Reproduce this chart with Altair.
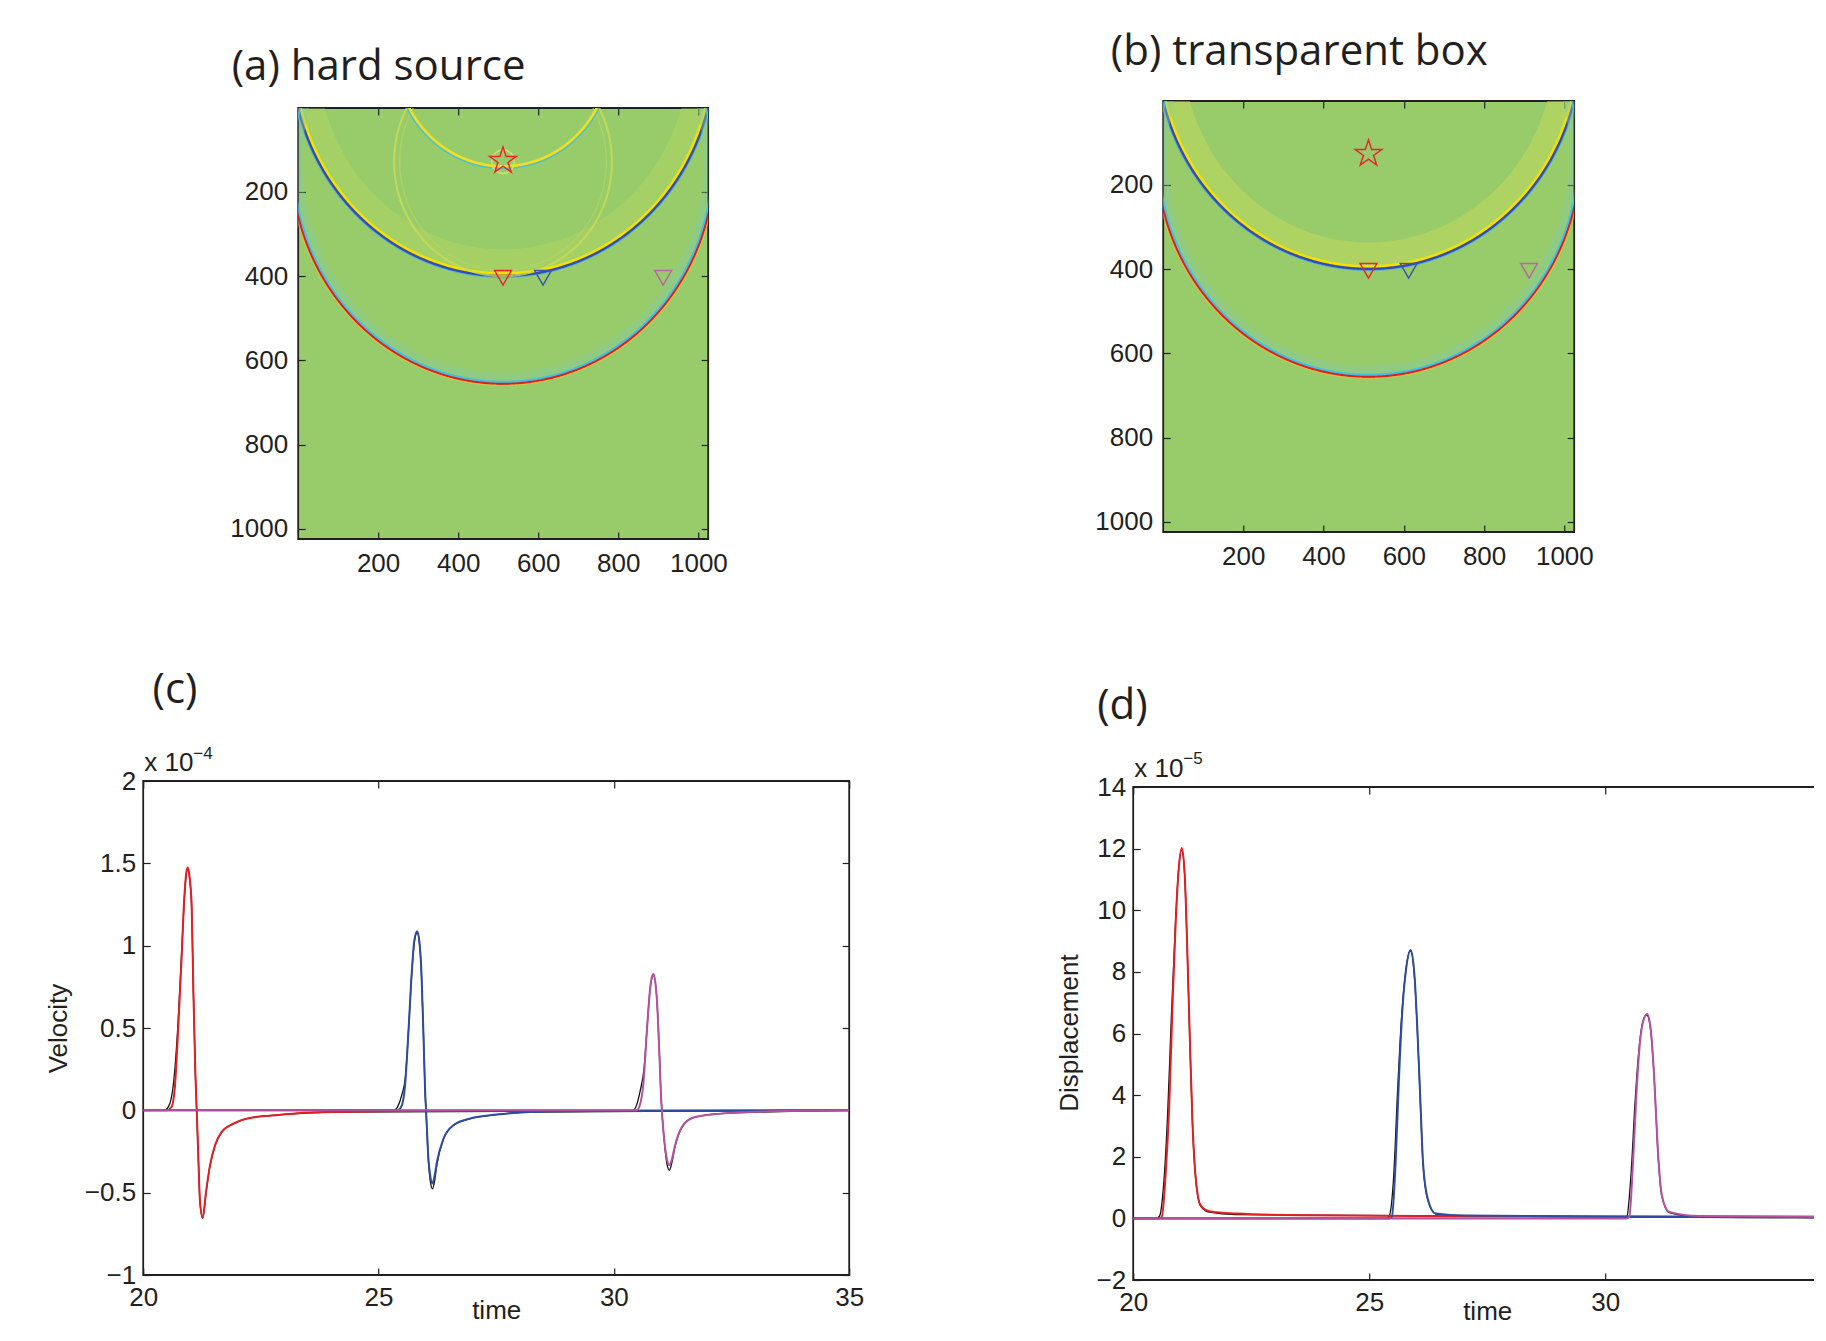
import altair as alt
import numpy as np
import pandas as pd

# ---------------- panel (c): velocity (x 1e-4) ----------------
vel_red_t = [20.0, 20.50, 20.60, 20.676, 20.747, 20.818, 20.875, 20.91, 20.946, 20.985, 21.03, 21.065, 21.108, 21.137,
             21.17, 21.207, 21.264, 21.335, 21.42, 21.526, 21.668, 21.915, 22.27, 22.98, 23.33, 24.0, 25.0, 27.0, 35.0]
vel_red_v = [0.0, 0.0, 0.02, 0.152, 0.515, 0.94, 1.30, 1.43, 1.475, 1.42, 1.24, 0.74, 0.23, 0.0,
             -0.273, -0.555, -0.652, -0.495, -0.333, -0.212, -0.131, -0.081, -0.046, -0.026, -0.016, -0.010, -0.005, -0.002, 0.0]
vel_blk1_t = [20.0, 20.45, 20.55, 20.65, 20.74, 20.815, 20.875, 20.91, 20.946, 20.985, 21.03, 21.065, 21.108, 21.137,
              21.17, 21.207, 21.264, 21.335, 21.42, 21.526, 21.668, 21.915, 22.27, 22.98, 24.0, 35.0]
vel_blk1_v = [0.0, 0.0, 0.03, 0.18, 0.53, 0.95, 1.29, 1.42, 1.465, 1.41, 1.23, 0.73, 0.22, 0.0,
              -0.28, -0.56, -0.655, -0.50, -0.335, -0.215, -0.132, -0.082, -0.046, -0.025, -0.01, 0.0]
vel_blu_t = [20.0, 25.40, 25.48, 25.564, 25.635, 25.706, 25.76, 25.82, 25.87, 25.905, 25.953, 25.997, 26.01, 26.06,
             26.10, 26.145, 26.19, 26.24, 26.38, 26.59, 26.95, 27.51, 28.22, 29.5, 35.0]
vel_blu_v = [0.0, 0.0, 0.02, 0.152, 0.475, 0.839, 1.03, 1.087, 1.02, 0.879, 0.475, 0.071, 0.0, -0.293,
             -0.40, -0.444, -0.40, -0.313, -0.172, -0.091, -0.05, -0.026, -0.01, -0.004, 0.0]
vel_blk2_t = [20.0, 25.33, 25.42, 25.50, 25.57, 25.64, 25.71, 25.765, 25.82, 25.87, 25.905, 25.953, 25.997, 26.01,
              26.06, 26.10, 26.145, 26.19, 26.24, 26.38, 26.59, 26.95, 27.51, 28.22, 35.0]
vel_blk2_v = [0.0, 0.0, 0.03, 0.10, 0.20, 0.50, 0.85, 1.03, 1.08, 1.01, 0.87, 0.47, 0.06, -0.01,
              -0.31, -0.43, -0.477, -0.43, -0.33, -0.175, -0.092, -0.05, -0.026, -0.01, 0.0]
vel_mag_t = [20.0, 30.48, 30.55, 30.63, 30.70, 30.77, 30.80, 30.842, 30.88, 30.914, 30.963, 31.005, 31.02, 31.075,
             31.13, 31.18, 31.23, 31.30, 31.445, 31.69, 32.26, 33.32, 35.0]
vel_mag_v = [0.0, 0.0, 0.03, 0.172, 0.475, 0.737, 0.80, 0.828, 0.78, 0.677, 0.374, 0.071, 0.0, -0.192,
             -0.30, -0.333, -0.30, -0.212, -0.101, -0.044, -0.02, -0.006, 0.0]
vel_blk3_t = [20.0, 30.40, 30.48, 30.56, 30.64, 30.71, 30.775, 30.842, 30.914, 30.963, 31.005, 31.02, 31.075,
              31.13, 31.18, 31.23, 31.30, 31.445, 31.69, 32.26, 35.0]
vel_blk3_v = [0.0, 0.0, 0.03, 0.12, 0.25, 0.52, 0.75, 0.82, 0.67, 0.37, 0.065, -0.005, -0.20,
              -0.33, -0.364, -0.32, -0.22, -0.105, -0.045, -0.02, 0.0]

# ---------------- panel (d): displacement (x 1e-5) ----------------
dis_red_t = [20.0, 20.55, 20.606, 20.69, 20.763, 20.833, 20.90, 20.97, 21.03, 21.09, 21.15, 21.20, 21.256, 21.326,
             21.43, 21.61, 22.17, 23.59, 26.0, 30.0, 35.0]
dis_red_v = [0.0, 0.0, 0.05, 1.50, 3.66, 6.90, 9.60, 11.43, 12.02, 11.2, 8.51, 5.82, 3.12, 1.29,
             0.42, 0.23, 0.155, 0.10, 0.08, 0.06, 0.05]
dis_blk1_t = [20.0, 20.50, 20.56, 20.65, 20.73, 20.81, 20.89, 20.96, 21.025, 21.09, 21.15, 21.20, 21.256, 21.326,
              21.43, 21.61, 22.17, 35.0]
dis_blk1_v = [0.0, 0.0, 0.08, 1.20, 3.40, 6.60, 9.40, 11.30, 11.95, 11.15, 8.45, 5.75, 3.05, 1.25,
              0.40, 0.20, 0.12, 0.02]
dis_blu_t = [20.0, 25.42, 25.48, 25.56, 25.63, 25.70, 25.79, 25.88, 25.966, 26.02, 26.08, 26.14, 26.24, 26.41,
             27.05, 30.0, 35.0]
dis_blu_v = [0.0, 0.0, 0.05, 1.83, 4.52, 6.68, 8.19, 8.71, 7.76, 6.14, 3.98, 1.83, 0.64, 0.155,
             0.09, 0.06, 0.04]
dis_blk2_t = [20.0, 25.36, 25.42, 25.52, 25.60, 25.68, 25.78, 25.87, 25.96, 26.02, 26.08, 26.14, 26.24, 26.41,
              27.05, 35.0]
dis_blk2_v = [0.0, 0.0, 0.06, 1.40, 4.10, 6.40, 8.10, 8.68, 7.80, 6.10, 3.90, 1.75, 0.60, 0.14,
              0.07, 0.02]
dis_mag_t = [20.0, 30.45, 30.51, 30.59, 30.66, 30.73, 30.82, 30.89, 30.965, 31.04, 31.11, 31.20, 31.355, 31.99, 35.0]
dis_mag_v = [0.0, 0.0, 0.05, 1.83, 3.98, 5.60, 6.47, 6.63, 6.14, 4.52, 2.37, 0.75, 0.21, 0.08, 0.05]
dis_blk3_t = [20.0, 30.40, 30.46, 30.55, 30.63, 30.71, 30.80, 30.88, 30.96, 31.04, 31.11, 31.20, 31.355, 31.99, 35.0]
dis_blk3_v = [0.0, 0.0, 0.06, 1.50, 3.70, 5.40, 6.40, 6.60, 6.15, 4.50, 2.30, 0.72, 0.19, 0.06, 0.02]

# ---------------- wavefield snapshots (a), (b): wavefront arcs ----------------
arc_cx = [512, 512, 512, 512, 512, 512, 512, 512, 512]
arc_cy = [-128, -128, -128, -128, -128, 128, 128, 128, 128]
arc_r = [493, 522, 525.5, 528, 531.5, 512, 523.5, 528, 531.5]
arc_col = ['#c4da5c', '#f2e300', '#f08a22', '#2a4fb0', '#5aaee0', '#86cba6', '#3fc0e6', '#dc1e1e', '#e8c03a']
arc_w = [24, 3, 1.2, 2.6, 1.2, 9, 2.5, 2.2, 1.3]
arc_op_a = [0.30, 1, 0.85, 1, 0.7, 0.4, 1, 1, 0.7]
arc_op_b = [0.50, 1, 0.85, 1, 0.7, 0.4, 1, 1, 0.7]
hs_cx = [512, 512, 512, 512, 512]
hs_cy = [128, 128, -128, -128, 128]
hs_r = [258, 272, 267, 272.5, 28]
hs_col = ['#bcd862', '#cadc56', '#f0e020', '#48bce0', '#d4e070']
hs_w = [1.5, 2.2, 2.5, 1.3, 1.6]
hs_op = [0.5, 0.75, 1, 0.9, 0.9]

STAR = ('M0,-1L0.2245,-0.309L0.951,-0.309L0.363,0.118L0.588,0.809L0,0.382'
        'L-0.588,0.809L-0.363,0.118L-0.951,-0.309L-0.2245,-0.309Z')
mk_x = [512, 512, 612, 912]
mk_y = [126, 404, 404, 404]
mk_shape = [STAR, 'triangle-down', 'triangle-down', 'triangle-down']
mk_col = ['#e8262b', '#e8262b', '#3a57a6', '#b866a6']
mk_size = [780, 280, 280, 280]

INK = '#231f20'
LFONT = 'Liberation Sans'
TFONT = 'Open Sans'
RED, BLUE, MAG, BLK = '#e31e24', '#2e4d9e', '#b5529f', '#111111'


def arcs_frame(cx, cy, r, col, w, op, start=0):
    rows = []
    for k in range(len(cx)):
        c = (-10 - cy[k]) / r[k]
        tmax = np.arccos(c) if -1 < c < 1 else np.pi
        th = np.linspace(-tmax, tmax, 700)
        rows.append(pd.DataFrame({'x': cx[k] + r[k] * np.sin(th), 'y': cy[k] + r[k] * np.cos(th),
                                  'i': np.arange(len(th)), 'arc': 'arc%02d' % (start + k),
                                  'col': col[k], 'w': w[k], 'op': op[k]}))
    return pd.concat(rows, ignore_index=True)


def ax(orient, values, labels=True, pad=8, fmt=None, **extra):
    kw = dict(orient=orient, values=values, offset=-7, tickSize=7, tickWidth=1.2, tickColor=INK,
              domain=False, grid=False, labels=labels, labelFont=LFONT, labelFontSize=26,
              labelColor=INK, labelPadding=pad, labelOverlap=False, labelFlush=False)
    if fmt:
        kw['format'] = fmt
    kw.update(extra)
    if 'title' not in kw:
        kw['title'] = None
    return alt.Axis(**kw)


def anchor(L, T, R, B, W, H):
    # invisible layout anchor that fixes a panel's bounding box for the concat layout
    return alt.Chart(pd.DataFrame({'z': [0]})).mark_rule(opacity=0, strokeWidth=1).encode(
        x=alt.value(-L), y=alt.value(-T), x2=alt.value(W + R), y2=alt.value(H + B))


def spacer(w, h):
    return anchor(0, 0, 0, 0, w, h).properties(width=w, height=h)


def wave_panel(arc_df, title, tdx, tdy, W, H, box):
    xs = alt.Scale(domain=[0.5, 1024.5], nice=False, zero=False)
    ys = alt.Scale(domain=[0.5, 1024.5], nice=False, zero=False, reverse=True)
    ticks = [200, 400, 600, 800, 1000]
    lines = alt.Chart(arc_df).mark_line(clip=True).encode(
        x=alt.X('x:Q', scale=xs, axis=ax('bottom', ticks, pad=11.6, fmt='d')),
        y=alt.Y('y:Q', scale=ys, axis=ax('left', ticks, pad=10.6, fmt='d')),
        detail='arc:N', order='i:Q',
        color=alt.Color('col:N', scale=None),
        strokeWidth=alt.StrokeWidth('w:Q', scale=None),
        opacity=alt.Opacity('op:Q', scale=None))
    mk = pd.DataFrame({'x': mk_x, 'y': mk_y, 'shape': mk_shape, 'col': mk_col, 's': mk_size})
    marks = alt.Chart(mk).mark_point(filled=False, strokeWidth=1.5, opacity=1).encode(
        x=alt.X('x:Q', scale=xs, axis=None), y=alt.Y('y:Q', scale=ys, axis=None),
        shape=alt.Shape('shape:N', scale=None), color=alt.Color('col:N', scale=None),
        size=alt.Size('s:Q', scale=None))
    mirror = alt.Chart(pd.DataFrame({'x': [512.0], 'y': [512.0]})).mark_point(opacity=0).encode(
        x=alt.X('x:Q', scale=xs, axis=ax('top', ticks, labels=False)),
        y=alt.Y('y:Q', scale=ys, axis=ax('right', ticks, labels=False)))
    ttl = alt.Chart(pd.DataFrame({'x': [0.5], 'y': [0.5], 't': [title]})).mark_text(
        align='left', baseline='alphabetic', dx=tdx, dy=tdy, font=TFONT, fontSize=42, color=INK).encode(
        x=alt.X('x:Q', scale=xs, axis=None), y=alt.Y('y:Q', scale=ys, axis=None), text='t:N')
    return alt.layer(anchor(*box, W, H), lines, marks, mirror, ttl).resolve_axis(
        x='independent', y='independent').properties(
        width=W, height=H, view=alt.ViewBackground(fill='#98cc6a', stroke=INK, strokeWidth=1.8))


def series_panel(blacks, colored, ydom, yticks, W, H, ytitle, ytx, yty, xty, label, ldx, ldy, expo, edx, edy, box):
    xs = alt.Scale(domain=[20, 35], nice=False, zero=False)
    ys = alt.Scale(domain=ydom, nice=False, zero=False)
    xticks = [20, 25, 30, 35]
    bdf = pd.concat([pd.DataFrame({'t': t, 'v': v, 's': 'b%d' % k}) for k, (t, v) in enumerate(blacks)],
                    ignore_index=True)
    layers = [anchor(*box, W, H),
              alt.Chart(bdf).mark_line(color=BLK, strokeWidth=1.3, interpolate='monotone', clip=True).encode(
        x=alt.X('t:Q', scale=xs, axis=ax('bottom', xticks, pad=9.5, title='time', titleFont=LFONT,
                                          titleFontSize=26, titleFontWeight='normal', titleColor=INK,
                                          titleX=W / 2, titleY=xty, titleBaseline='alphabetic',
                                          titleAlign='center')),
        y=alt.Y('v:Q', scale=ys, axis=ax('left', yticks, pad=7.5, fmt='~g', title=ytitle, titleFont=LFONT,
                                         titleFontSize=26, titleFontWeight='normal', titleColor=INK,
                                         titleX=ytx, titleY=yty, titleAngle=270, titleAlign='center',
                                         titleBaseline='middle')),
        detail='s:N')]
    for (t, v, c) in colored:
        df = pd.DataFrame({'t': t, 'v': v})
        layers.append(alt.Chart(df).mark_line(color=c, strokeWidth=2.0, interpolate='monotone', clip=True).encode(
            x=alt.X('t:Q', scale=xs, axis=None), y=alt.Y('v:Q', scale=ys, axis=None)))
    layers.append(alt.Chart(pd.DataFrame({'t': [27.5], 'v': [ydom[0] + 1]})).mark_point(opacity=0).encode(
        x=alt.X('t:Q', scale=xs, axis=ax('top', xticks, labels=False)),
        y=alt.Y('v:Q', scale=ys, axis=ax('right', yticks, labels=False))))
    texts = [(label, ldx, ldy, TFONT, 42), ('x 10', 1.0, -10.5, LFONT, 26), (expo, edx, edy, LFONT, 17)]
    for (txt, dx, dy, f, fs) in texts:
        layers.append(alt.Chart(pd.DataFrame({'t': [20.0], 'v': [ydom[1]], 'txt': [txt]})).mark_text(
            align='left', baseline='alphabetic', dx=dx, dy=dy, font=f, fontSize=fs, color=INK).encode(
            x=alt.X('t:Q', scale=xs, axis=None), y=alt.Y('v:Q', scale=ys, axis=None), text='txt:N'))
    return alt.layer(*layers).resolve_axis(x='independent', y='independent').properties(
        width=W, height=H, view=alt.ViewBackground(fill='white', stroke=INK, strokeWidth=1.8))


df_a = pd.concat([arcs_frame(arc_cx, arc_cy, arc_r, arc_col, arc_w, arc_op_a, 0),
                  arcs_frame(hs_cx, hs_cy, hs_r, hs_col, hs_w, hs_op, 20)], ignore_index=True)
df_b = arcs_frame(arc_cx, arc_cy, arc_r, arc_col, arc_w, arc_op_b, 0)

# bounding boxes (left, top, right, bottom) around each plot area
panel_a = wave_panel(df_a, '(a) hard source', -66.5, -28, 410, 431, (80, 91.1, 30, 60))
panel_b = wave_panel(df_b, '(b) transparent box', -52.4, -36, 411, 431, (422.9, 91.1, 20, 60))

panel_c = series_panel(
    [(vel_blk1_t, vel_blk1_v), (vel_blk2_t, vel_blk2_v), (vel_blk3_t, vel_blk3_v)],
    [(vel_red_t, vel_red_v, RED), (vel_blu_t, vel_blu_v, BLUE), (vel_mag_t, vel_mag_v, MAG)],
    [-1, 2], [-1, -0.5, 0, 0.5, 1, 1.5, 2], 706, 494, 'Velocity', -92, 247, 50.7,
    '(c)', 9.3, -78, '\u22124', 50, -22, (40, 178.7, 20, 60))

panel_d = series_panel(
    [(dis_blk1_t, dis_blk1_v), (dis_blk2_t, dis_blk2_v), (dis_blk3_t, dis_blk3_v)],
    [(dis_red_t, dis_red_v, RED), (dis_blu_t, dis_blu_v, BLUE), (dis_mag_t, dis_mag_v, MAG)],
    [-2, 14], [-2, 0, 2, 4, 6, 8, 10, 12, 14], 708, 493, 'Displacement', -71, 245.6, 46,
    '(d)', -36, -67.6, '\u22125', 50, -23, (261.5, 178.7, 20, 60))

a_col = alt.vconcat(spacer(1, 8), panel_a, spacing=0)
b_col = alt.vconcat(spacer(1, 1), panel_b, spacing=0)
c_col = alt.vconcat(spacer(1, 1), panel_c, spacing=0)
d_col = alt.vconcat(spacer(1, 6.9), panel_d, spacing=0)

row1 = alt.hconcat(spacer(73.8, 1), a_col, b_col, spacing=0)
row2 = alt.hconcat(c_col, d_col, spacing=0)

chart = alt.vconcat(row1, row2, spacing=0).properties(
    autosize=alt.AutoSizeParams(type='none'),
    padding={'left': 135.2, 'top': 0, 'right': 1670.8, 'bottom': 1318},
    background='white'
).configure_view(strokeWidth=0)

chart.save('out.html', embed_options={'renderer': 'svg', 'actions': False})
